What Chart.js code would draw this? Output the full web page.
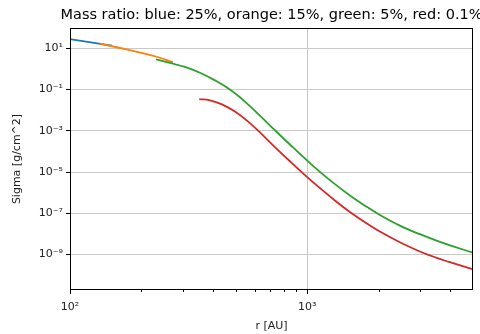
<!DOCTYPE html>
<html>
<head>
<meta charset="utf-8">
<title>Sigma profile</title>
<script src="https://cdn.jsdelivr.net/npm/chart.js@4.4.1/dist/chart.umd.min.js"></script>
<style>
  html, body { margin: 0; padding: 0; background: #fff; }
  #wrap { width: 480px; height: 334px; }
</style>
</head>
<body>
<div id="wrap"><canvas id="sigma"></canvas></div>
<script>
// ------------------------------
// data
// ------------------------------
const titleText = "Mass ratio: blue: 25%, orange: 15%, green: 5%, red: 0.1%";

const blueR = [100, 116.8, 136.4, 150.3];
const blueSigma = [28.28, 21.38, 16.17, 13.37];

const orangeR = [133.8, 173.4, 232.0, 271.7];
const orangeSigma = [16.72, 8.943, 3.910, 2.162];

const greenR = [230.4, 263.9, 305.3, 353.0, 408.3, 472.3, 546.3, 631.8, 730.9, 845.5, 1000,
    1131, 1309, 1514, 1751, 2025, 2458, 2985, 3625, 4991];
const greenSigma = [2.924, 1.955, 1.251, 0.6538, 0.2797, 0.1, 0.02616, 5.405e-3, 1.069e-3, 2.163e-4, 3.576e-5,
    1.023e-5, 2.585e-6, 7.313e-7, 2.338e-7, 8.269e-8, 2.529e-8, 9.670e-9, 4.135e-9, 1.223e-9];

const redR = [350.6, 389.0, 437.1, 495.8, 562.5, 631.8, 730.9, 845.5, 1000,
    1131, 1309, 1514, 1751, 2025, 2458, 3133, 3994, 4991];
const redSigma = [0.03458, 0.03024, 0.01912, 8.553e-3, 2.859e-3, 8.366e-4, 1.635e-4, 3.344e-5, 5.655e-6,
    1.672e-6, 4.181e-7, 1.156e-7, 3.698e-8, 1.307e-8, 3.955e-9, 1.118e-9, 4.228e-10, 1.934e-10];

const xTicks = [100, 1000];
const xTickLabels = ["10²", "10³"];
const xMinorTicks = [200, 300, 400, 500, 600, 700, 800, 900, 2000, 3000, 4000];

const yTicks = [1e1, 1e-1, 1e-3, 1e-5, 1e-7, 1e-9];
const yTickLabels = ["10¹", "10⁻¹", "10⁻³", "10⁻⁵", "10⁻⁷", "10⁻⁹"];

// ------------------------------
// helpers
// ------------------------------
function toPoints(rs, sig) {
    return rs.map((r, i) => ({ x: r, y: sig[i] }));
}

function serie(rs, sig, color, order) {
    return {
        data: toPoints(rs, sig),
        borderColor: color,
        borderWidth: 1.8,
        pointRadius: 0,
        fill: false,
        tension: 0.4,
        order: order
    };
}

const FONT = "'DejaVu Sans', sans-serif";

// title over the axes centre, box round the axes, short minor ticks
const framePlugin = {
    id: 'frame',
    afterDraw(chart) {
        const ctx = chart.ctx;
        const a = chart.chartArea;
        const xs = chart.scales.x;

        ctx.save();
        ctx.strokeStyle = '#000';
        ctx.lineWidth = 1;
        ctx.strokeRect(Math.round(a.left) + 0.5, Math.round(a.top) + 0.5,
            Math.round(a.right - a.left) - 1, Math.round(a.bottom - a.top) - 1);

        ctx.beginPath();
        xMinorTicks.forEach(v => {
            const px = Math.round(xs.getPixelForValue(v)) + 0.5;
            ctx.moveTo(px, a.bottom);
            ctx.lineTo(px, a.bottom + 2);
        });
        ctx.stroke();

        ctx.fillStyle = '#000';
        ctx.font = "14.5px " + FONT;
        ctx.textAlign = 'center';
        ctx.textBaseline = 'middle';
        ctx.fillText(titleText, (a.left + a.right) / 2, 15);
        ctx.restore();
    }
};

new Chart(document.getElementById('sigma'), {
    type: 'line',
    data: {
        datasets: [
            serie(blueR, blueSigma, '#1f77b4', 4),
            serie(orangeR, orangeSigma, '#ff7f0e', 3),
            serie(greenR, greenSigma, '#2ca02c', 2),
            serie(redR, redSigma, '#d62728', 1)
        ]
    },
    options: {
        responsive: true,
        maintainAspectRatio: false,
        animation: false,
        devicePixelRatio: 1,
        layout: { padding: { top: 28, right: 7, left: 0, bottom: 0 } },
        plugins: {
            legend: { display: false },
            tooltip: { enabled: false }
        },
        scales: {
            x: {
                type: 'logarithmic',
                min: 100,
                max: 5000,
                afterBuildTicks: s => { s.ticks = xTicks.map(v => ({ value: v })); },
                afterFit: s => { s.height = 44; },
                ticks: {
                    autoSkip: false,
                    maxRotation: 0,
                    padding: 7,
                    color: '#222',
                    font: { family: FONT, size: 11 },
                    callback: (v, i) => xTickLabels[i]
                },
                grid: { color: '#c8c8c8', lineWidth: 1, tickLength: 4, tickColor: '#000' },
                border: { display: false },
                title: {
                    display: true,
                    text: 'r [AU]',
                    color: '#222',
                    font: { family: FONT, size: 11 },
                    padding: { top: 0, bottom: 1 }
                }
            },
            y: {
                type: 'logarithmic',
                min: 1.9e-11,
                max: 97,
                afterBuildTicks: s => { s.ticks = yTicks.map(v => ({ value: v })); },
                afterFit: s => { s.width = 70; },
                ticks: {
                    autoSkip: false,
                    padding: 3,
                    color: '#222',
                    font: { family: FONT, size: 11 },
                    callback: (v, i) => yTickLabels[i]
                },
                grid: { color: '#c8c8c8', lineWidth: 1, tickLength: 4, tickColor: '#000' },
                border: { display: false },
                title: {
                    display: true,
                    text: 'Sigma [g/cm^2]',
                    color: '#222',
                    font: { family: FONT, size: 11 },
                    padding: { top: 11, bottom: 0 }
                }
            }
        }
    },
    plugins: [framePlugin]
});
</script>
</body>
</html>
